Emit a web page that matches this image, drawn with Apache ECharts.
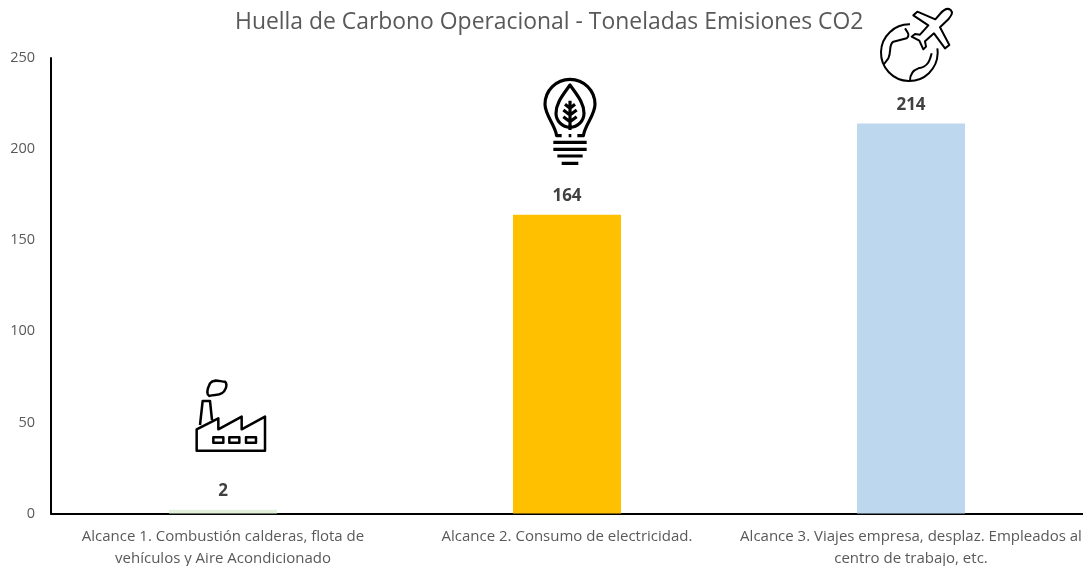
<!DOCTYPE html>
<html>
<head>
<meta charset="utf-8">
<style>
  html, body { margin: 0; padding: 0; background: #fff; }
  #chart { width: 1083px; height: 566px; }
</style>
<script src="https://cdn.jsdelivr.net/npm/echarts@6/dist/echarts.min.js"></script>
</head>
<body>
<div id="chart"></div>
<script>
const titleText = "Huella de Carbono Operacional - Toneladas Emisiones CO2";
const categories = [
  "Alcance 1. Combustión calderas, flota de\nvehículos y Aire Acondicionado",
  "Alcance 2. Consumo de electricidad.",
  "Alcance 3. Viajes empresa, desplaz. Empleados al\ncentro de trabajo, etc."
];
const emissions = [2, 164, 214];
const barColors = ["#E2EFD9", "#FFC000", "#BDD7EE"];
const yTicks = { min: 0, max: 250, interval: 50 };

const fontName = "Open Sans";

// iconos dibujados a mano, coordenadas del recorte a escala 3x
const factoryIcon = "M140 242V178L205 145V178L275 140V178L345 140V242Z" +
  "M150 165L158 93H180L186 150" +
  "M190 202H220V218H190Z M238 202H268V218H238Z M288 202H318V218H288Z" +
  "M178 78C165 70 175 50 180 40C190 25 210 35 225 35C235 45 225 65 215 70C205 78 190 72 178 78Z";
const bulbIcon = "M125 197H110C105 165 75 135 75 103A75 75 0 0 1 225 103C225 135 195 165 190 197H172" +
  "M150 45C125 80 108 100 108 130A42 42 0 0 0 192 130C192 100 175 80 150 45Z" +
  "M150 92V180M150 115L135 103M150 115L165 103M150 135L130 120M150 135L170 120M150 155L130 140M150 155L170 140" +
  "M146 197H154" +
  "M100 217H200M100 238H200M112 258H188M125 280H175";
const globeIcon = "M272 30C262 22 250 30 240 42L226 58L172 35L160 46L205 76L180 104L165 102L155 110L178 122L190 148L198 140L195 124L222 100L255 145L268 135L240 82L265 58C275 45 280 38 272 30Z" +
  "M150 73A85 85 0 1 0 232 145" +
  "M135 85C145 100 150 105 140 115L100 125C85 135 95 155 85 175L70 195" +
  "M215 160C210 180 205 200 175 205C155 212 150 225 150 242";

echarts.graphic.registerShape("factoryIcon", echarts.graphic.extendPath(factoryIcon, {}));
echarts.graphic.registerShape("bulbIcon", echarts.graphic.extendPath(bulbIcon, {}));
echarts.graphic.registerShape("globeIcon", echarts.graphic.extendPath(globeIcon, {}));

function icon(type, x, y, lineWidth) {
  return {
    type: type,
    x: x,
    y: y,
    scaleX: 1 / 3,
    scaleY: 1 / 3,
    style: { fill: null, stroke: "#000", lineWidth: lineWidth, lineJoin: "round" },
    silent: true
  };
}

const myChart = echarts.init(document.getElementById("chart"));
let option = {
  backgroundColor: "#fff",
  animation: false,
  textStyle: { fontFamily: fontName },
  title: {
    text: titleText,
    left: 230,
    top: 6,
    textStyle: { fontFamily: fontName, fontSize: 22.9, fontWeight: "normal", color: "#595959" }
  },
  grid: { left: 51, right: 0, top: 58, bottom: 52.5, outerBoundsMode: "none" },
  xAxis: {
    type: "category",
    data: categories,
    axisLine: { lineStyle: { color: "#000", width: 2 } },
    axisTick: { show: false },
    axisLabel: { color: "#595959", fontSize: 15, lineHeight: 22, margin: 12, interval: 0 }
  },
  yAxis: {
    type: "value",
    min: yTicks.min,
    max: yTicks.max,
    interval: yTicks.interval,
    axisLine: { show: true, lineStyle: { color: "#000", width: 2 } },
    axisTick: { show: false },
    splitLine: { show: false },
    axisLabel: { color: "#595959", fontSize: 14.5, margin: 16 }
  },
  series: [
    {
      type: "bar",
      barWidth: 108,
      data: emissions.map((v, i) => ({ value: v, itemStyle: { color: barColors[i] } })),
      label: {
        show: true,
        position: "top",
        distance: 10,
        fontFamily: fontName,
        fontSize: 17,
        fontWeight: "bold",
        color: "#404040"
      }
    }
  ],
  graphic: [
    icon("factoryIcon", 150, 370, 7.5),
    icon("bulbIcon", 520, 70, 9.5),
    icon("globeIcon", 860, 0, 6)
  ]
};
myChart.setOption(option);
</script>
</body>
</html>
